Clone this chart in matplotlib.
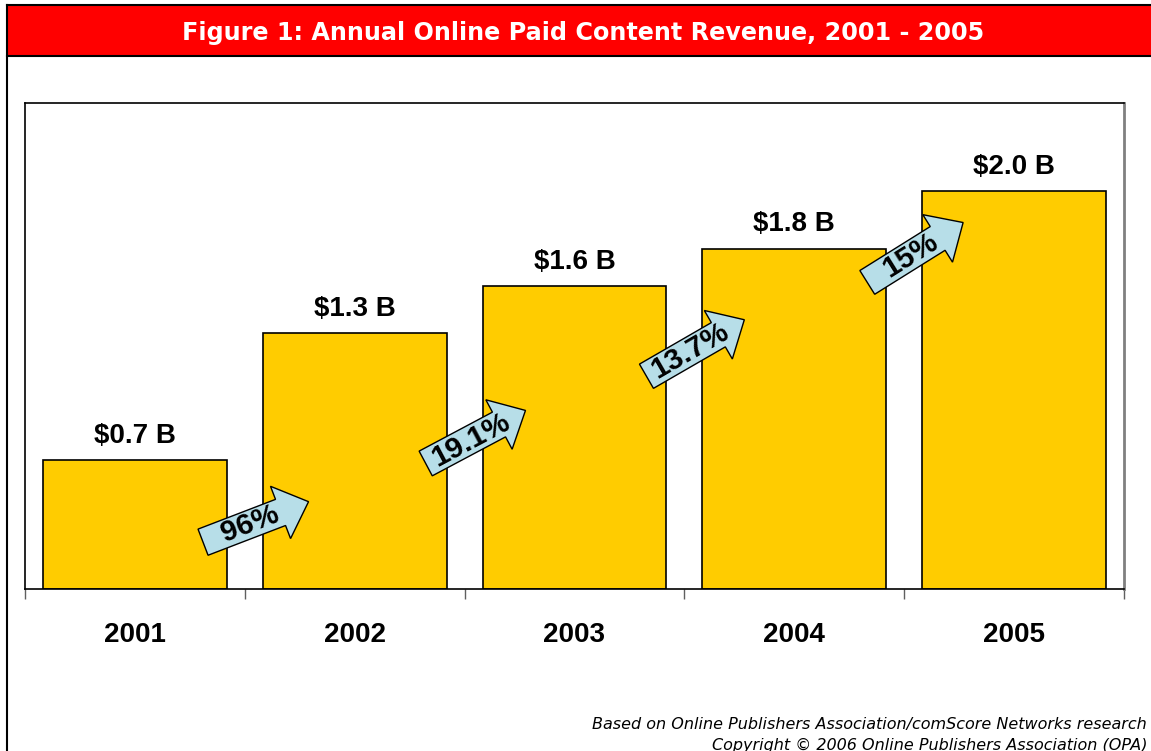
import numpy as np
import matplotlib
matplotlib.use("Agg")
import matplotlib.pyplot as plt
import matplotlib.transforms as mtransforms
from matplotlib.patches import Polygon, Rectangle
from matplotlib.lines import Line2D

years = ['2001', '2002', '2003', '2004', '2005']
revenue = [0.648, 1.286, 1.52, 1.71, 2.0]
value_labels = ['$0.7 B', '$1.3 B', '$1.6 B', '$1.8 B', '$2.0 B']
growth_labels = ['96%', '19.1%', '13.7%', '15%']
growth_y = [0.337, 0.764, 1.211, 1.691]
growth_angle = [21, 28, 30, 32]

W, H = 1151, 751
fig = plt.figure(figsize=(W / 100, H / 100), dpi=100)
fig.patch.set_facecolor('white')

# header bar and outer frame (pixel coords -> figure fraction)
def fx(px):
    return px / W

def fy(py):
    return 1 - py / H

fig.patches.append(Rectangle((fx(7), fy(56)), 1 - fx(7), fy(5) - fy(56),
                             transform=fig.transFigure, facecolor='#FF0000',
                             edgecolor='none', zorder=0))
fig.lines.append(Line2D([fx(7), 1], [fy(5), fy(5)], transform=fig.transFigure,
                        color='black', lw=1.5))
fig.lines.append(Line2D([fx(7), 1], [fy(56), fy(56)], transform=fig.transFigure,
                        color='black', lw=1.5))
fig.lines.append(Line2D([fx(7), fx(7)], [0, fy(5)], transform=fig.transFigure,
                        color='black', lw=1.5))
fig.text(fx(583), fy(33), 'Figure 1: Annual Online Paid Content Revenue, 2001 - 2005',
         color='white', fontsize=17.2, fontweight='bold', family='DejaVu Sans',
         ha='center', va='center')

ax = fig.add_axes([fx(25), fy(589), fx(1124) - fx(25), fy(103) - fy(589)])
x = np.arange(len(years))
ax.bar(x, revenue, width=0.836, color='#FFCC00', edgecolor='black', linewidth=1.2, zorder=2)
ax.set_xlim(-0.5, 4.5)
ax.set_ylim(0, 2.442)
ax.set_yticks([])

for s in ['top', 'left', 'bottom']:
    ax.spines[s].set_color('black')
    ax.spines[s].set_linewidth(1.2)
ax.spines['right'].set_color('#808080')
ax.spines['right'].set_linewidth(2)

ax.set_xticks(np.arange(-0.5, 5, 1))
ax.set_xticklabels([])
ax.tick_params(axis='x', which='major', length=7, width=1, color='#606060', direction='out')
ax.set_xticks(x, minor=True)
ax.set_xticklabels(years, minor=True, fontsize=20, fontweight='bold', family='Liberation Sans')
ax.tick_params(axis='x', which='minor', length=0, pad=24)

for xi, v, lab in zip(x, revenue, value_labels):
    ax.annotate(lab, (xi, v), xytext=(0, 12.5), textcoords='offset points',
                ha='center', va='baseline', fontsize=20, fontweight='bold',
                family='Liberation Sans')

# growth arrows between bars
L, w, hw, hl = 113, 14, 28, 30
arrow = np.array([(-L / 2, -w), (L / 2 - hl, -w), (L / 2 - hl, -hw), (L / 2, 0),
                  (L / 2 - hl, hw), (L / 2 - hl, w), (-L / 2, w)])
for i, (lab, gy, ang) in enumerate(zip(growth_labels, growth_y, growth_angle)):
    gx = i + 0.55
    tr = mtransforms.Affine2D().rotate_deg(ang) + mtransforms.ScaledTranslation(gx, gy, ax.transData)
    ax.add_patch(Polygon(arrow, closed=True, facecolor='#B7DEE8', edgecolor='black',
                         linewidth=1, transform=tr, zorder=3))
    off = -6
    dx = off * np.cos(np.radians(ang))
    dy = off * np.sin(np.radians(ang))
    ttr = mtransforms.offset_copy(ax.transData, fig=fig, x=dx, y=dy, units='dots')
    ax.text(gx, gy, lab, transform=ttr, rotation=ang, rotation_mode='anchor',
            ha='center', va='center', fontsize=21.5, fontweight='bold',
            family='Liberation Sans', zorder=4)

fig.text(fx(1147), fy(724), 'Based on Online Publishers Association/comScore Networks research',
         fontsize=11.5, style='italic', family='DejaVu Sans', ha='right', va='center')
fig.text(fx(1147), fy(745), 'Copyright \u00a9 2006 Online Publishers Association (OPA)',
         fontsize=11.5, style='italic', family='DejaVu Sans', ha='right', va='center')

fig.savefig('out.png', dpi=100)
